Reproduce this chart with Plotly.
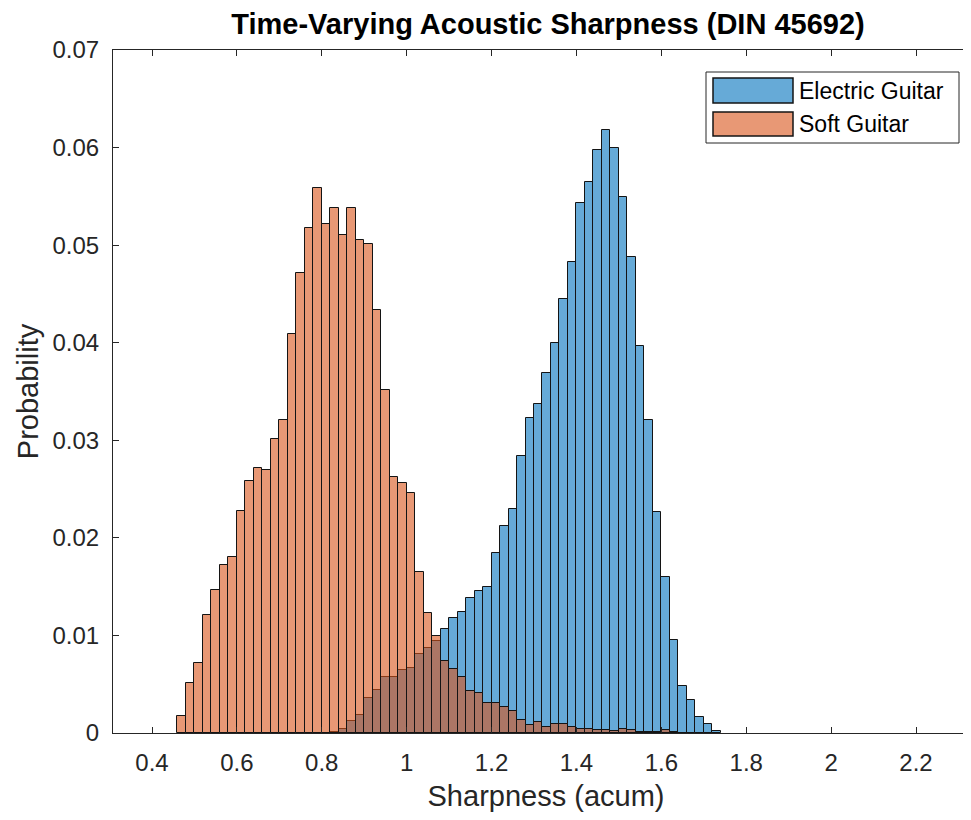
import plotly.graph_objects as go

BIN_WIDTH = 0.02

# Soft Guitar: left bin edges and probabilities
soft_left = [0.46, 0.48, 0.50, 0.52, 0.54, 0.56, 0.58, 0.60, 0.62, 0.64,
             0.66, 0.68, 0.70, 0.72, 0.74, 0.76, 0.78, 0.80, 0.82, 0.84,
             0.86, 0.88, 0.90, 0.92, 0.94, 0.96, 0.98, 1.00, 1.02, 1.04,
             1.06, 1.08, 1.10, 1.12, 1.14, 1.16, 1.18, 1.20, 1.22, 1.24,
             1.26, 1.28, 1.30, 1.32, 1.34, 1.36, 1.38, 1.40, 1.42, 1.44,
             1.46, 1.48, 1.50, 1.52, 1.54, 1.56, 1.58, 1.60, 1.62, 1.64]
soft_prob = [0.0017, 0.0051, 0.0072, 0.0121, 0.0147, 0.0172, 0.0180, 0.0228, 0.0258, 0.0272,
             0.0270, 0.0301, 0.0321, 0.0409, 0.0471, 0.0518, 0.0559, 0.0522, 0.0538, 0.0510,
             0.0538, 0.0505, 0.0501, 0.0434, 0.0352, 0.0262, 0.0256, 0.0246, 0.0165, 0.0123,
             0.0099, 0.0074, 0.0066, 0.0057, 0.0043, 0.0041, 0.0031, 0.0031, 0.0027, 0.0023,
             0.0013, 0.0008, 0.0011, 0.0006, 0.0009, 0.0009, 0.00065, 0.0004, 0.0004, 0.0003,
             0.0003, 0.0002, 0.0004, 0.0003, 0.00015, 0.00015, 0.00015, 0.0003, 0.0001, 0.00005]

# Electric Guitar: left bin edges and probabilities
elec_left = [0.82, 0.84, 0.86, 0.88, 0.90, 0.92, 0.94, 0.96, 0.98, 1.00,
             1.02, 1.04, 1.06, 1.08, 1.10, 1.12, 1.14, 1.16, 1.18, 1.20,
             1.22, 1.24, 1.26, 1.28, 1.30, 1.32, 1.34, 1.36, 1.38, 1.40,
             1.42, 1.44, 1.46, 1.48, 1.50, 1.52, 1.54, 1.56, 1.58, 1.60,
             1.62, 1.64, 1.66, 1.68, 1.70, 1.72]
elec_prob = [0.0001, 0.0004, 0.0012, 0.0018, 0.0036, 0.0044, 0.0057, 0.0057, 0.0065, 0.0067,
             0.0081, 0.0087, 0.0094, 0.0107, 0.0118, 0.0124, 0.0138, 0.0146, 0.0150, 0.0184,
             0.0212, 0.0230, 0.0284, 0.0323, 0.0337, 0.0369, 0.0400, 0.0445, 0.0483, 0.0543,
             0.0565, 0.0598, 0.0618, 0.0600, 0.0549, 0.0488, 0.0397, 0.0321, 0.0226, 0.0160,
             0.0095, 0.0048, 0.0034, 0.0016, 0.0009, 0.0002]

x_ticks = [0.4, 0.6, 0.8, 1.0, 1.2, 1.4, 1.6, 1.8, 2.0, 2.2]
x_tick_text = ["0.4", "0.6", "0.8", "1", "1.2", "1.4", "1.6", "1.8", "2", "2.2"]
y_ticks = [0, 0.01, 0.02, 0.03, 0.04, 0.05, 0.06, 0.07]
y_tick_text = ["0", "0.01", "0.02", "0.03", "0.04", "0.05", "0.06", "0.07"]

series_names = ["Electric Guitar", "Soft Guitar"]
BLUE = "rgba(0,114,189,0.6)"
ORANGE = "rgba(217,83,25,0.6)"
AX = "#262626"
EDGE = "#141414"
FONT = "Liberation Sans, Arial, Helvetica, sans-serif"

fig = go.Figure()
fig.add_trace(go.Bar(
    x=[e + BIN_WIDTH / 2 for e in elec_left], y=elec_prob, width=BIN_WIDTH,
    name=series_names[0], marker=dict(color=BLUE, line=dict(color=EDGE, width=1)),
    showlegend=False))
fig.add_trace(go.Bar(
    x=[e + BIN_WIDTH / 2 for e in soft_left], y=soft_prob, width=BIN_WIDTH,
    name=series_names[1], marker=dict(color=ORANGE, line=dict(color=EDGE, width=1)),
    showlegend=False))

# page offset (body margin) compensation
OFF = 8
W, H = 971, 820
L, R, T = 113 - OFF, 0, 50 - OFF
B = H - (733 - OFF)
pw, ph = W - L - R, H - T - B


def px_x(p):
    return (p - OFF - L) / pw


def px_y(p):
    return (H - B - (p - OFF)) / ph


# Legend drawn as layout decoration (MATLAB-style wide swatches)
shapes = [
    dict(type="rect", xref="paper", yref="paper", x0=px_x(706), x1=px_x(959),
         y0=px_y(143), y1=px_y(72), line=dict(color=AX, width=1), fillcolor="white", layer="above"),
    dict(type="rect", xref="paper", yref="paper", x0=px_x(713), x1=px_x(793),
         y0=px_y(103), y1=px_y(78), line=dict(color=EDGE, width=1.5), fillcolor=BLUE, layer="above"),
    dict(type="rect", xref="paper", yref="paper", x0=px_x(713), x1=px_x(793),
         y0=px_y(136), y1=px_y(112), line=dict(color=EDGE, width=1.5), fillcolor=ORANGE, layer="above"),
]
annotations = [
    dict(xref="paper", yref="paper", x=px_x(797), y=px_y(91), text=series_names[0],
         showarrow=False, xanchor="left", yanchor="middle", font=dict(family=FONT, size=23, color="#000")),
    dict(xref="paper", yref="paper", x=px_x(797), y=px_y(124), text=series_names[1],
         showarrow=False, xanchor="left", yanchor="middle", font=dict(family=FONT, size=23, color="#000")),
]

# x range: 0.4 at page px 152, 2.2 at page px 916
ppu = (916 - 152) / 1.8
x_lo = 0.4 - (152 - (L + OFF)) / ppu
x_hi = 2.2 + ((L + OFF + pw) - 916) / ppu

fig.update_layout(
    width=W, height=H,
    margin=dict(l=L, r=R, t=T, b=B),
    paper_bgcolor="white", plot_bgcolor="white",
    barmode="overlay", bargap=0,
    title=dict(text="<b>Time-Varying Acoustic Sharpness (DIN 45692)</b>",
               x=(548 - OFF) / W, xref="container", xanchor="center",
               y=1 - (24 - OFF) / H, yref="container", yanchor="middle",
               font=dict(family=FONT, size=29, color="#000")),
    font=dict(family=FONT, size=24, color=AX),
    shapes=shapes, annotations=annotations,
    showlegend=False,
)
fig.update_xaxes(
    range=[x_lo, x_hi], tickvals=x_ticks, ticktext=x_tick_text,
    ticks="inside", ticklen=6, tickcolor=AX, tickwidth=1,
    showline=True, linecolor=AX, linewidth=1, mirror="ticks",
    showgrid=False, zeroline=False, ticklabelstandoff=8,
    tickfont=dict(family=FONT, size=24, color=AX),
    title=dict(text="Sharpness (acum)", font=dict(family=FONT, size=29, color=AX), standoff=10),
)
fig.update_yaxes(
    range=[0, 0.07], tickvals=y_ticks, ticktext=y_tick_text,
    ticks="inside", ticklen=6, tickcolor=AX, tickwidth=1,
    showline=True, linecolor=AX, linewidth=1, mirror=False,
    showgrid=False, zeroline=False, ticklabelstandoff=8,
    tickfont=dict(family=FONT, size=24, color=AX),
    title=dict(text="Probability", font=dict(family=FONT, size=29, color=AX), standoff=5),
)

fig.write_html("out.html")
